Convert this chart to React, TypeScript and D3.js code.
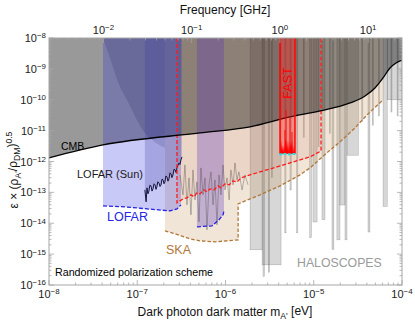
import * as d3 from 'd3'

// axes
const massDomain = [1e-8, 1e-4]
const epsDomain = [1e-16, 1e-8]
const massTicks = [1e-8, 1e-7, 1e-6, 1e-5, 1e-4]
const massTickExp = ['−8', '−7', '−6', '−5', '−4']
const epsTicks = [1e-16, 1e-15, 1e-14, 1e-13, 1e-12, 1e-11, 1e-10, 1e-9, 1e-8]
const epsTickExp = ['−16', '−15', '−14', '−13', '−12', '−11', '−10', '−9', '−8']
const freqTicks = [1e-2, 1e-1, 1, 10]
const freqTickExp = ['−2', '−1', '0', '1']
const GHZ_PER_EV = 241798.9

// CMB bound [m (eV), eps]
const cmbBound = [
  [1e-8, 1.31e-12], [4.09e-8, 3.44e-12], [5.14e-7, 8.43e-12], [1.9e-6, 1.32e-11],
  [5.38e-6, 2.77e-11], [1.18e-5, 4.35e-11], [2.58e-5, 7.87e-11], [3.81e-5, 1.33e-10],
  [4.94e-5, 2.41e-10], [6.1e-5, 5.08e-10], [7.31e-5, 1.07e-9], [8.55e-5, 1.55e-9], [1e-4, 1.94e-9],
]

// LOFAR projections (dashed blue)
const lofarLba = [[4.09e-8, 3.66e-14], [7.26e-8, 3.4e-14], [1.29e-7, 2.92e-14], [2.35e-7, 2.52e-14], [2.82e-7, 2.92e-14], [3.13e-7, 3.94e-14]]
const lofarHba = [[4.75e-7, 7.64e-15], [7.03e-7, 8.24e-15], [8.44e-7, 1.29e-14], [9.37e-7, 1.87e-14], [9.61e-7, 2.52e-14]]

// SKA projection (dashed brown)
const skaBound = [
  [2.06e-7, 5.67e-15], [2.68e-7, 4.54e-15], [3.96e-7, 3.13e-15], [5.14e-7, 2.69e-15], [7.6e-7, 2.5e-15],
  [1.39e-6, 2.9e-15], [1.39e-6, 4.25e-14], [2.46e-6, 8.3e-14], [4.15e-6, 1.62e-13], [6.98e-6, 3.68e-13],
  [9.08e-6, 6.21e-13], [1.45e-5, 2.05e-12], [1.98e-5, 4.31e-12], [2.93e-5, 1.22e-11], [4.01e-5, 3.22e-11], [6.1e-5, 9.86e-11],
]

// red dashed projection
const redBound = [
  [2.82e-7, 1e-8], [2.82e-7, 4.57e-14], [3.3e-7, 6.17e-14], [3.66e-7, 6.64e-14], [4.06e-7, 8.3e-14], [4.4e-7, 7.15e-14],
  [4.75e-7, 9.63e-14], [5.14e-7, 8.94e-14], [5.7e-7, 1.2e-13], [6.17e-7, 1.04e-13], [6.67e-7, 1.3e-13], [7.41e-7, 1.2e-13],
  [8.22e-7, 1.62e-13], [8.89e-7, 1.4e-13], [9.87e-7, 1.88e-13], [1.1e-6, 1.75e-13], [1.22e-6, 2.36e-13], [1.35e-6, 2.19e-13],
  [1.5e-6, 2.94e-13], [1.9e-6, 3.68e-13], [2.46e-6, 4.6e-13], [3.84e-6, 6.68e-13], [5.38e-6, 9.0e-13], [9.08e-6, 1.41e-12],
  [1.21e-5, 2.2e-12], [1.21e-5, 1e-8],
]

// other excluded region (curved edge)
const curveRegion = [
  [4.09e-8, 1e-8], [4.91e-8, 2.25e-9], [6.05e-8, 3.77e-10], [7.86e-8, 8.49e-11], [1.02e-7, 1.91e-11],
  [1.22e-7, 8.43e-12], [1.47e-7, 5.0e-12], [2.06e-7, 2.75e-12],
]

// LOFAR (Sun) limit
const lofarSun = [
  [1.22e-7, 1.2e-13], [1.26e-7, 4.93e-14], [1.29e-7, 1.4e-13], [1.32e-7, 9.0e-14], [1.35e-7, 1.04e-13], [1.39e-7, 1.7e-13],
  [1.43e-7, 1.62e-13], [1.47e-7, 1.1e-13], [1.51e-7, 1.3e-13], [1.55e-7, 1.9e-13], [1.59e-7, 1.75e-13], [1.63e-7, 1.25e-13],
  [1.67e-7, 1.51e-13], [1.71e-7, 2.2e-13], [1.76e-7, 2.03e-13], [1.81e-7, 1.55e-13], [1.86e-7, 1.75e-13], [1.91e-7, 2.7e-13],
  [1.96e-7, 2.54e-13], [2.01e-7, 1.9e-13], [2.06e-7, 2.19e-13], [2.11e-7, 3.4e-13], [2.17e-7, 3.17e-13], [2.23e-7, 2.3e-13],
  [2.29e-7, 2.74e-13], [2.35e-7, 4.3e-13], [2.41e-7, 3.97e-13], [2.47e-7, 3.0e-13], [2.54e-7, 3.68e-13], [2.61e-7, 5.6e-13],
  [2.68e-7, 5.35e-13], [2.75e-7, 4.4e-13], [2.82e-7, 6.21e-13], [2.9e-7, 7.5e-13], [2.97e-7, 9.0e-13], [3.05e-7, 8.0e-13],
  [3.13e-7, 1.13e-12], [3.21e-7, 1.41e-12],
]

// noisy grey limit
const greyLimit = [
  [3.05e-7, 3.68e-13], [3.3e-7, 8.3e-14], [3.47e-7, 7.76e-13], [3.66e-7, 3.94e-14], [3.86e-7, 2.94e-13], [4.06e-7, 1.87e-14],
  [4.28e-7, 5.35e-13], [4.51e-7, 5.71e-14], [4.75e-7, 2.19e-13], [5.01e-7, 1.11e-14], [5.27e-7, 6.21e-13], [5.56e-7, 8.3e-14],
  [5.86e-7, 2.94e-13], [6.17e-7, 6.11e-15], [6.5e-7, 1.75e-13], [6.85e-7, 4.6e-13], [7.22e-7, 3.94e-14], [7.6e-7, 2.54e-13],
  [8.01e-7, 8.87e-15], [8.44e-7, 3.68e-13], [8.89e-7, 8.3e-14], [9.37e-7, 7.76e-13], [9.87e-7, 1.2e-13], [1.04e-6, 2.94e-13],
  [1.1e-6, 5.71e-14], [1.15e-6, 5.35e-13], [1.22e-6, 1.75e-13], [1.28e-6, 9.0e-13], [1.35e-6, 2.54e-13], [1.42e-6, 4.6e-13],
  [1.54e-6, 1.2e-13], [1.66e-6, 3.68e-13], [1.8e-6, 1.75e-13],
]

// FAST
const fastBand = [4.15e-6, 6.13e-6]
const fastFloor = 1.77e-12
const fastSpikes = [
  [4.15e-6, 1.9e-12], [4.26e-6, 5.0e-12], [4.37e-6, 2.2e-12], [4.48e-6, 3.44e-12], [4.6e-6, 2.0e-12], [4.72e-6, 3.8e-12],
  [4.85e-6, 5.5e-12], [4.98e-6, 2.37e-12], [5.11e-6, 5.0e-12], [5.24e-6, 2.0e-12], [5.38e-6, 4.6e-12], [5.52e-6, 2.75e-12],
  [5.67e-6, 5.0e-12], [5.82e-6, 1.9e-12], [5.97e-6, 3.44e-12], [6.13e-6, 1.9e-12],
]
const fastPeaks = [[4.72e-6, 1.05e-11], [4.85e-6, 4.68e-11], [5.38e-6, 2.58e-11], [5.67e-6, 9e-12]]
const fastDots = [[4.22e-6, 1.7e-12], [4.7e-6, 1.75e-12], [5.3e-6, 1.7e-12], [5.95e-6, 1.75e-12]]

// haloscopes [mLo, mHi, eps bottom]
const haloscopes = [
  [1.9e-6, 2.6e-6, 1.38e-15], [2.6e-6, 4.26e-6, 4.5e-16], [2.66e-6, 2.76e-6, 1.9e-16], [3.05e-6, 3.15e-6, 2.6e-16],
  [3.3e-6, 3.4e-6, 3e-13], [4.7e-6, 4.85e-6, 4.9e-15], [5.38e-6, 5.55e-6, 1.2e-13], [6.4e-6, 6.6e-6, 4.9e-15],
  [7.6e-6, 7.8e-6, 6e-12], [9.0e-6, 9.4e-6, 3.4e-15], [9.8e-6, 1.09e-5, 1.1e-14], [1.12e-5, 1.15e-5, 3e-12],
  [1.24e-5, 1.34e-5, 1.3e-14], [1.5e-5, 1.53e-5, 8e-12], [1.61e-5, 1.69e-5, 1.4e-15], [1.83e-5, 1.98e-5, 2.9e-15],
  [1.98e-5, 2.26e-5, 3.9e-14], [2.26e-5, 2.38e-5, 2.9e-15], [2.38e-5, 3.2e-5, 1.6e-12], [3.5e-5, 3.6e-5, 2e-11],
  [4.12e-5, 4.33e-5, 5.2e-15], [4.6e-5, 4.7e-5, 1.5e-11], [5.4e-5, 5.5e-5, 3e-11], [6.1e-5, 6.8e-5, 3.5e-14],
  [6.8e-5, 1e-4, 1.0e-10], [7.5e-5, 7.6e-5, 4e-11], [8.8e-5, 8.9e-5, 3e-11],
]

const W = 415, H = 323
const L = 49, R = 402, T = 38, B = 285
const FONT = "'Liberation Sans', Arial, sans-serif"

export default function App() {
  const x = d3.scaleLog().domain(massDomain).range([L, R])
  const y = d3.scaleLog().domain(epsDomain).range([B, T])
  const xf = d3.scaleLog().domain([massDomain[0] * GHZ_PER_EV, massDomain[1] * GHZ_PER_EV]).range([L, R])
  const top = epsDomain[1]

  const line = d3.line<number[]>().x(d => x(d[0])).y(d => y(d[1]))
  const smooth = d3.line<number[]>().x(d => x(d[0])).y(d => y(d[1])).curve(d3.curveMonotoneX)
  const above = (pts: number[][], gen = line) =>
    gen(pts) + `L${x(pts[pts.length - 1][0])},${y(top)}L${x(pts[0][0])},${y(top)}Z`

  const cmbPath = smooth(cmbBound) + `L${x(1e-4)},${y(top)}L${x(1e-8)},${y(top)}Z`

  const fastArea = d3.area<number[]>().x(d => x(d[0])).y0(y(fastFloor)).y1(d => y(d[1]))

  const grid = '#a6a6a6'
  const xMinor = x.ticks()
  const yMinor = y.ticks()
  const fMinor = xf.ticks()
  const isMajor = (t: number) => Math.abs(Math.log10(t) - Math.round(Math.log10(t))) < 1e-6

  const sup = (base: string, e: string) => (
    <>
      {base}
      <tspan dy="-0.45em" fontSize="0.72em">{e}</tspan>
    </>
  )

  return (
    <svg width={W} height={H} style={{ position: 'absolute', left: 0, top: 0, background: '#fff' }} fontFamily={FONT}>
      <defs>
        <clipPath id="plot">
          <rect x={L} y={T} width={R - L} height={B - T} />
        </clipPath>
      </defs>

      <g clipPath="url(#plot)">
        {/* haloscopes */}
        {haloscopes.map((d, i) => (
          <rect key={i} x={x(d[0])} y={T} width={Math.max(1, x(d[1]) - x(d[0]))} height={y(d[2]) - T}
            fill="rgba(110,110,110,0.28)" stroke="rgba(90,90,90,0.45)" strokeWidth={0.5} />
        ))}

        {/* projections under CMB */}
        <path d={above(skaBound)} fill="rgba(200,150,100,0.25)" />
        <path d={line(redBound) + 'Z'} fill="rgba(200,100,80,0.12)" />

        {/* CMB */}
        <path d={cmbPath} fill="rgba(0,0,0,0.4)" />

        {/* LOFAR / other excluded regions */}
        <path d={above(lofarLba)} fill="rgba(31,31,226,0.245)" />
        <path d={above(curveRegion, smooth)} fill="rgba(0,0,60,0.14)" />
        <path d={above(lofarSun)} fill="rgba(60,60,160,0.25)" />
        <path d={above(lofarHba)} fill="rgba(90,50,190,0.3)" />

        <path d={line(greyLimit)!} fill="none" stroke="rgba(70,70,70,0.55)" strokeWidth={0.7} />
        <path d={line(lofarSun)!} fill="none" stroke="#15153d" strokeWidth={1} />

        {/* dashed projections */}
        <path d={line(lofarLba)!} fill="none" stroke="#2222e8" strokeWidth={1.3} strokeDasharray="4,2" />
        <path d={line(lofarHba)!} fill="none" stroke="#2222e8" strokeWidth={1.3} strokeDasharray="4,2" />
        <path d={line(skaBound)!} fill="none" stroke="#b07838" strokeWidth={1.3} strokeDasharray="3.5,2" />
        <path d={line(redBound)!} fill="none" stroke="#ff1a1a" strokeWidth={1.3} strokeDasharray="4,2" />

        {/* CMB line */}
        <path d={smooth(cmbBound)!} fill="none" stroke="#000" strokeWidth={1.3} />

        {/* FAST */}
        <rect x={x(fastBand[0])} y={T} width={x(fastBand[1]) - x(fastBand[0])} height={y(fastFloor) - T}
          fill="rgba(255,20,20,0.38)" />
        {fastPeaks.map((d, i) => (
          <line key={i} x1={x(d[0])} x2={x(d[0])} y1={y(fastFloor)} y2={y(d[1])} stroke="#ff0000" strokeWidth={0.9} />
        ))}
        <path d={fastArea(fastSpikes)!} fill="#ff0000" />
        <line x1={x(fastBand[0])} x2={x(fastBand[0])} y1={T} y2={y(fastFloor)} stroke="#ff0000" strokeWidth={1.5} />
        <line x1={x(fastBand[1])} x2={x(fastBand[1])} y1={T} y2={y(fastFloor)} stroke="#ff0000" strokeWidth={1.5} />
        {fastDots.map((d, i) => (
          <rect key={i} x={x(d[0]) - 1.5} y={y(d[1]) - 1} width={3} height={2} fill="#33dddd" />
        ))}
      </g>

      {/* annotations */}
      <text x={61} y={150} fontSize={10.5} fill="#000">CMB</text>
      <text x={77} y={178} fontSize={11} fill="#1a1a1a">LOFAR (Sun)</text>
      <text x={107} y={221} fontSize={12.5} fill="#2525e6">LOFAR</text>
      <text x={166} y={254} fontSize={12.5} fill="#b07838">SKA</text>
      <text x={55} y={276} fontSize={10.7} fill="#000">Randomized polarization scheme</text>
      <text x={297} y={267} fontSize={12.3} fill="#9a9a9a">HALOSCOPES</text>
      <text transform="translate(292,83) rotate(-90)" textAnchor="middle" fontSize={12.5} fill="#ff0000">FAST</text>

      {/* frame */}
      <rect x={L} y={T} width={R - L} height={B - T} fill="none" stroke={grid} strokeWidth={1} />

      {/* ticks */}
      {xMinor.map((t, i) => (
        <line key={'xm' + i} x1={x(t)} x2={x(t)} y1={B} y2={B - (isMajor(t) ? 5 : 2.5)} stroke={grid} strokeWidth={0.8} />
      ))}
      {fMinor.map((t, i) => (
        <line key={'fm' + i} x1={xf(t)} x2={xf(t)} y1={T} y2={T + (isMajor(t) ? 5 : 2.5)} stroke={grid} strokeWidth={0.8} />
      ))}
      {yMinor.map((t, i) => {
        const len = isMajor(t) ? 5 : 2.5
        return (
          <g key={'ym' + i} stroke={grid} strokeWidth={0.8}>
            <line x1={L} x2={L + len} y1={y(t)} y2={y(t)} />
            <line x1={R} x2={R - len} y1={y(t)} y2={y(t)} />
          </g>
        )
      })}

      {/* tick labels */}
      {massTicks.map((t, i) => (
        <text key={'xl' + i} x={x(t)} y={298} textAnchor="middle" fontSize={11} fill="#222">{sup('10', massTickExp[i])}</text>
      ))}
      {freqTicks.map((t, i) => (
        <text key={'fl' + i} x={xf(t)} y={34} textAnchor="middle" fontSize={11} fill="#222">{sup('10', freqTickExp[i])}</text>
      ))}
      {epsTicks.map((t, i) => (
        <text key={'yl' + i} x={46} y={y(t) + 4} textAnchor="end" fontSize={11} fill="#222">{sup('10', epsTickExp[i])}</text>
      ))}

      {/* axis titles */}
      <text x={225} y={14} textAnchor="middle" fontSize={12} fill="#111">Frequency [GHz]</text>
      <text x={225} y={316} textAnchor="middle" fontSize={12} fill="#111">
        Dark photon dark matter m<tspan dy="0.3em" fontSize="0.72em">A'</tspan><tspan dy="-0.3em"> [eV]</tspan>
      </text>
      <text transform="translate(18,170) rotate(-90)" textAnchor="middle" fontSize={12} fill="#111">
        ε × (ρ<tspan dy="0.3em" fontSize="0.72em">A'</tspan><tspan dy="-0.3em">/ρ</tspan>
        <tspan dy="0.3em" fontSize="0.72em">DM</tspan><tspan dy="-0.3em">)</tspan>
        <tspan dy="-0.45em" fontSize="0.72em">0.5</tspan>
      </text>
    </svg>
  )
}
